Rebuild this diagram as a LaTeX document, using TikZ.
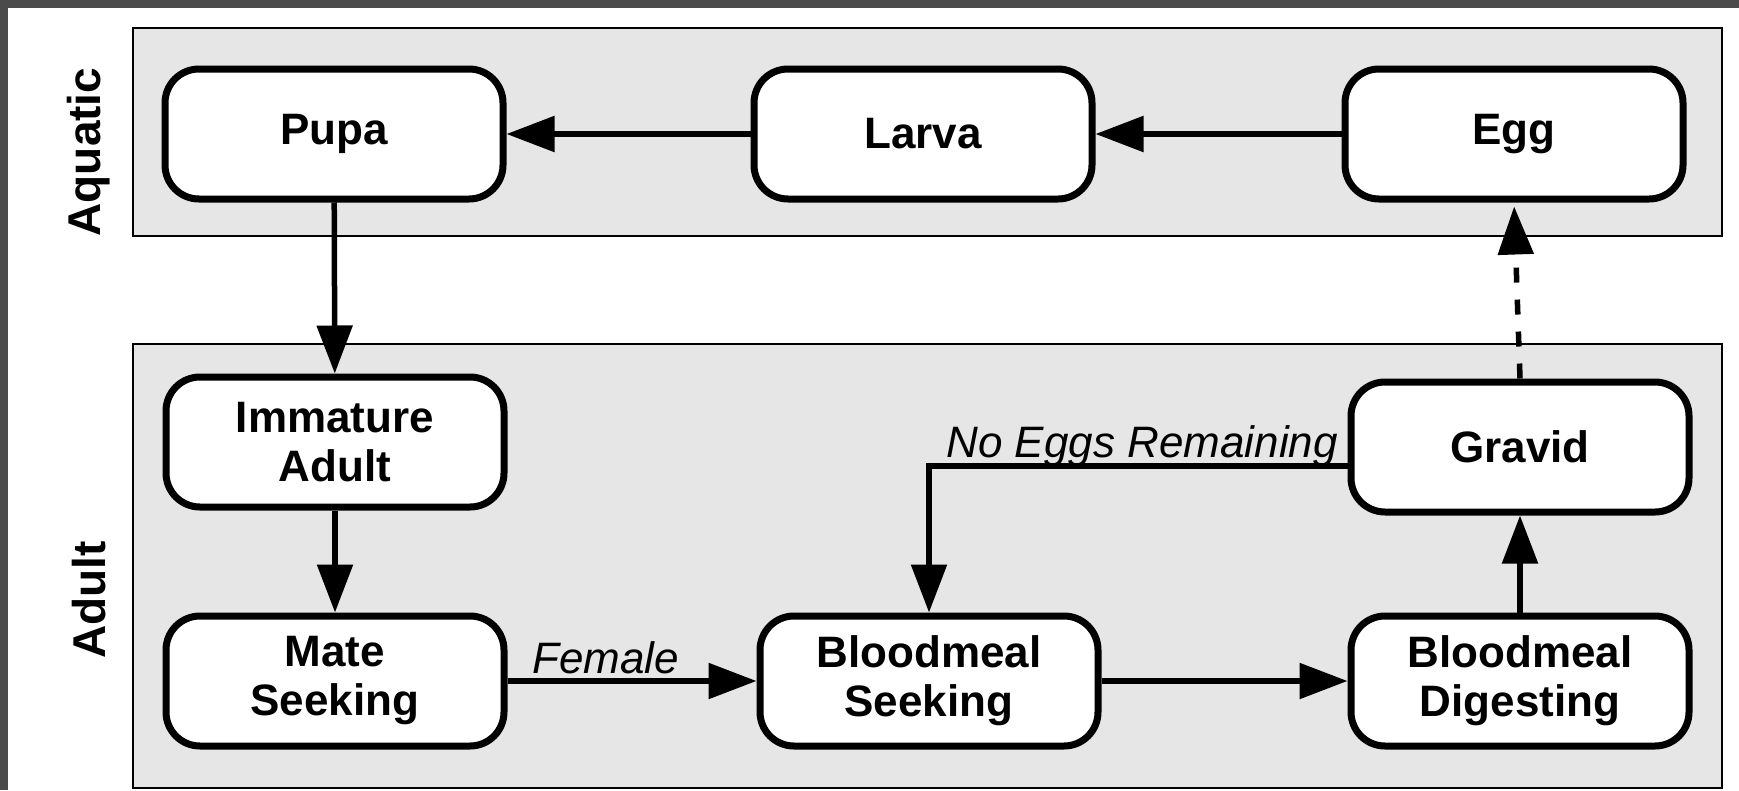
\documentclass[tikz,border=0pt]{standalone}
\usepackage{fontspec}
\setmainfont{Liberation Sans}
\usetikzlibrary{arrows.meta}
\definecolor{band}{HTML}{4B4B4B}
\definecolor{panel}{HTML}{E6E6E6}
\begin{document}
\begin{tikzpicture}[x=1pt,y=-1pt,
  stage/.style={draw, line width=7pt, fill=white, rounded corners=34pt,
    minimum width=338pt, minimum height=130pt, align=center,
    font=\bfseries\fontsize{44}{49}\selectfont, inner sep=0pt},
  flow/.style={line width=5.5pt, -{Triangle[length=48pt,width=35pt]}},
  lbl/.style={font=\itshape\fontsize{44}{49}\selectfont, inner sep=0pt},
  phase/.style={font=\bfseries\fontsize{46}{50}\selectfont, rotate=90, inner sep=0pt},
  panelbox/.style={draw, line width=2.5pt, fill=panel}]
\useasboundingbox (0,0) rectangle (1739,790);
\fill[white] (0,0) rectangle (1739,790);
\fill[band] (0,0) rectangle (1739,8);
\fill[band] (0,0) rectangle (8,790);
\draw[panelbox] (133,28) rectangle (1722,236);
\draw[panelbox] (133,344) rectangle (1722,788);
\node[phase] (aquatic) at (89,152) {Aquatic};
\node[phase] (adult) at (89,600) {Adult};
\node[stage] (pupa) at (334,134) {Pupa};
\node[stage] (larva) at (923,134) {Larva};
\node[stage] (egg) at (1514,134) {Egg};
\node[stage] (imm) at (335,442) {Immature\\Adult};
\node[stage] (mate) at (335,681) {Mate\\Seeking};
\node[stage] (bs) at (929,681) {Bloodmeal\\Seeking};
\node[stage] (bd) at (1520,681) {Bloodmeal\\Digesting};
\node[stage] (gravid) at (1520,447) {Gravid};
\draw[flow] (larva) -- (pupa);
\draw[flow] (egg) -- (larva);
\draw[flow] (pupa) -- (imm);
\draw[flow] (imm) -- (mate);
\draw[flow] (mate) -- (bs);
\draw[flow] (bs) -- (bd);
\draw[flow] (bd) -- (gravid);
\coordinate (gw) at ([yshift=-19pt]gravid.west);
\draw[flow] (gw) -| (bs.north);
\draw[flow, dash pattern=on 15pt off 17pt, shorten >=4pt] (gravid.north) -- (egg.south);
\node[lbl, anchor=base west] (female) at (532,673) {Female};
\node[lbl, anchor=base east] (noeggs) at (1338,457) {No Eggs Remaining};
\end{tikzpicture}
\end{document}
